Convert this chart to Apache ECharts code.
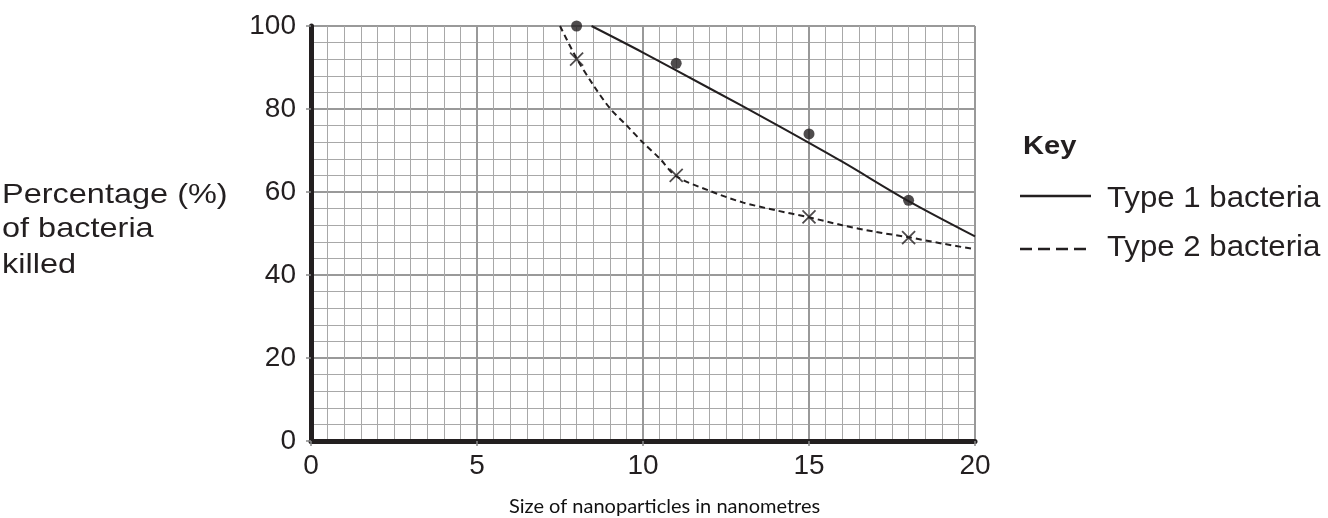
<!DOCTYPE html>
<html><head><meta charset="utf-8">
<script src="https://cdn.jsdelivr.net/npm/echarts@6/dist/echarts.min.js"></script>
<style>html,body{margin:0;padding:0;background:#fff}#c{width:1328px;height:518px}</style>
</head><body><div id="c"></div>
<script>
// measured points
const type1Points = [[8, 100], [11, 91], [15, 74], [18, 58]];
const type2Points = [[8, 92], [11, 64], [15, 54], [18, 49]];
// lines of best fit as drawn in the reference
const type1Curve = [[8.45, 100], [10, 93.6], [12, 85], [14, 76.3], [16, 67.3], [18, 57.8], [20, 49.3]];
const type2Curve = [[7.5, 100], [8, 92.2], [8.5, 85.8], [9, 80.2], [9.5, 76.1], [10, 71.9], [10.5, 68.1], [11, 63.8],
  [12, 60.3], [13, 57.5], [14, 55.6], [15, 53.9], [16, 52], [17, 50.4], [18, 49.1], [19, 47.6], [20, 46.2]];
const xTicks = [0, 5, 10, 15, 20];
const yTicks = [0, 20, 40, 60, 80, 100];
const yTitle = ['Percentage (%)', 'of bacteria', 'killed'];
const xTitle = 'Size of nanoparticles in nanometres';
const keyTitle = 'Key';
const seriesNames = ['Type 1 bacteria', 'Type 2 bacteria'];

const chart = echarts.init(document.getElementById('c'));
const ARIAL = '"Liberation Sans", Arial, sans-serif';
const ink = '#231f20';
const labelFont = {fontFamily: ARIAL, fontSize: 28, color: ink};
chart.setOption({
  animation: false,
  grid: {left: 311, top: 26, width: 664, height: 415},
  xAxis: {
    type: 'value', min: xTicks[0], max: xTicks[xTicks.length - 1], interval: 5,
    axisLine: {show: true, onZero: false, lineStyle: {color: ink, width: 5}},
    axisTick: {show: true, length: 5, lineStyle: {color: '#888', width: 1.5}},
    axisLabel: Object.assign({margin: 11}, labelFont),
    splitLine: {show: true, lineStyle: {color: '#999', width: 2}},
    minorTick: {show: false, splitNumber: 10},
    minorSplitLine: {show: true, lineStyle: {color: '#a8a8a8', width: 1}}
  },
  yAxis: {
    type: 'value', min: yTicks[0], max: yTicks[yTicks.length - 1], interval: 20,
    axisLine: {show: true, onZero: false, lineStyle: {color: ink, width: 5}},
    axisTick: {show: true, length: 5, lineStyle: {color: '#888', width: 1.5}},
    axisLabel: Object.assign({margin: 15}, labelFont),
    splitLine: {show: true, lineStyle: {color: '#999', width: 2}},
    minorTick: {show: false, splitNumber: 5},
    minorSplitLine: {show: true, lineStyle: {color: '#a8a8a8', width: 1}}
  },
  series: [
    {name: seriesNames[0], type: 'line', data: type1Curve, smooth: 0.3, symbol: 'none',
     lineStyle: {color: ink, width: 2}, z: 3},
    {name: seriesNames[0] + ' points', type: 'scatter', data: type1Points, symbol: 'circle', symbolSize: 11,
     itemStyle: {color: ink}, z: 4},
    {name: seriesNames[1], type: 'line', data: type2Curve, smooth: 0.3, symbol: 'none',
     lineStyle: {color: ink, width: 2, type: [6, 4]}, z: 3},
    {name: seriesNames[1] + ' points', type: 'scatter', data: type2Points,
     symbol: 'path://M0,0L10,10M10,0L0,10', symbolSize: 13, symbolKeepAspect: true,
     itemStyle: {color: 'none', borderColor: ink, borderWidth: 1.8}, z: 4}
  ],
  graphic: [
    ...yTitle.map((t, i) => ({type: 'text', x: 2, y: [181, 215, 251][i], scaleX: 1.16,
      style: {text: t, font: '28px ' + ARIAL, fill: ink}})),
    {type: 'text', x: 509, y: 497,
      style: {text: xTitle, font: '20px Lato, "Open Sans", sans-serif', fill: '#111'}},
    {type: 'text', x: 1023, y: 134, scaleX: 1.12, style: {text: keyTitle, font: 'bold 26px ' + ARIAL, fill: ink}},
    {type: 'line', shape: {x1: 1020, y1: 196, x2: 1091, y2: 196}, style: {stroke: ink, lineWidth: 2.5}},
    {type: 'line', shape: {x1: 1020, y1: 249, x2: 1088, y2: 249}, style: {stroke: ink, lineWidth: 2.5, lineDash: [12, 6]}},
    {type: 'text', x: 1107, y: 184, scaleX: 1.04, style: {text: seriesNames[0], font: '30px ' + ARIAL, fill: ink}},
    {type: 'text', x: 1107, y: 233, scaleX: 1.04, style: {text: seriesNames[1], font: '30px ' + ARIAL, fill: ink}}
  ]
});
</script></body></html>
